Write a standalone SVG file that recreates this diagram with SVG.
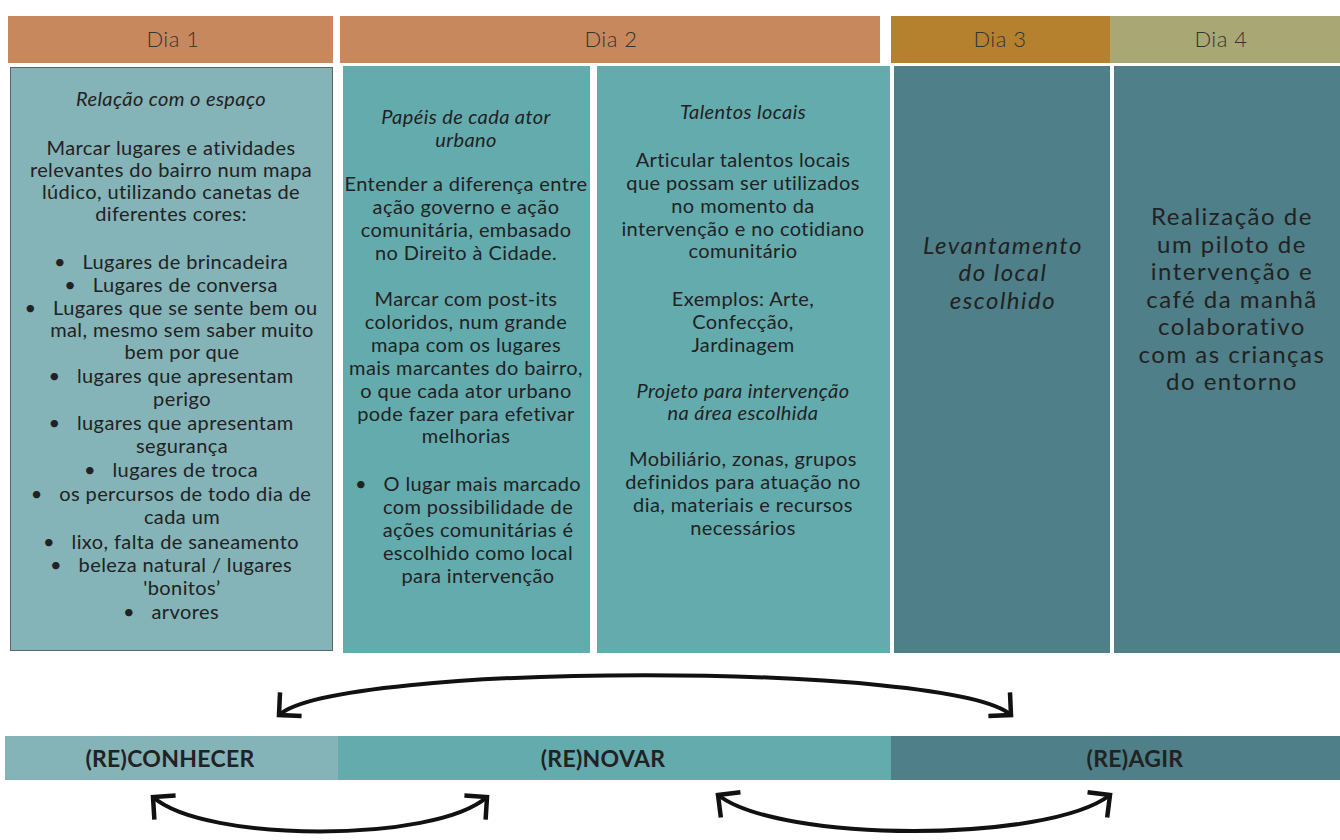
<svg xmlns="http://www.w3.org/2000/svg" width="1340" height="840" viewBox="0 0 1340 840">
<style>
.hd{font-family:Lato,"Noto Sans",sans-serif;font-weight:300;font-size:22px;fill:#333;text-anchor:middle;letter-spacing:0.5px}
.bd{font-family:Lato,"Noto Sans",sans-serif;font-size:20px;fill:#222;text-anchor:middle;letter-spacing:0.4px}
.it{font-style:italic}
.big{font-family:Lato,"Noto Sans",sans-serif;font-size:24px;fill:#222;text-anchor:middle;letter-spacing:1.5px}
.lbl{font-family:Lato,"Noto Sans",sans-serif;font-weight:700;font-size:23px;fill:#222;text-anchor:middle;letter-spacing:0.3px}
.arr{fill:none;stroke:#111;stroke-width:4;marker-start:url(#ah);marker-end:url(#ah)}
</style>
<defs>
<marker id="ah" markerUnits="userSpaceOnUse" markerWidth="48" markerHeight="48" viewBox="-24 -24 48 48" refX="0" refY="0" orient="auto-start-reverse" overflow="visible">
<path d="M -16,-16 L 0,0 L -16,16" fill="none" stroke="#111" stroke-width="4.5"/>
</marker>
</defs>
<rect width="1340" height="840" fill="#fff"/>

<g id="header-dia1"><rect x="8" y="16" width="325" height="47" fill="#c8885e"/><text class="hd" x="173" y="47">Dia 1</text></g>
<g id="header-dia2"><rect x="340" y="16" width="540" height="47" fill="#c8885e"/><text class="hd" x="611" y="47">Dia 2</text></g>
<g id="header-dia3"><rect x="891" y="16" width="220" height="47" fill="#b5812f"/><text class="hd" x="1000" y="47">Dia 3</text></g>
<g id="header-dia4"><rect x="1110" y="16" width="230" height="47" fill="#a9a774"/><text class="hd" x="1221" y="47">Dia 4</text></g>

<g id="dia1">
<rect x="10.5" y="67.5" width="322" height="583" fill="#84b3b8" stroke="#5a6466" stroke-width="1"/>
<text class="bd it" x="171" y="106">Relação com o espaço</text>
<text class="bd" x="171" y="155">Marcar lugares e atividades</text>
<text class="bd" x="171" y="177">relevantes do bairro num mapa</text>
<text class="bd" x="171" y="199">lúdico, utilizando canetas de</text>
<text class="bd" x="171" y="221">diferentes cores:</text>
<text class="bd" x="171" y="269">•&#160;&#160;&#160;Lugares de brincadeira</text>
<text class="bd" x="171" y="292">•&#160;&#160;&#160;Lugares de conversa</text>
<text class="bd" x="171" y="315">•&#160;&#160;&#160;Lugares que se sente bem ou</text>
<text class="bd" x="182" y="337">mal, mesmo sem saber muito</text>
<text class="bd" x="182" y="359">bem por que</text>
<text class="bd" x="171" y="383">•&#160;&#160;&#160;lugares que apresentam</text>
<text class="bd" x="182" y="406">perigo</text>
<text class="bd" x="171" y="430">•&#160;&#160;&#160;lugares que apresentam</text>
<text class="bd" x="182" y="453">segurança</text>
<text class="bd" x="171" y="477">•&#160;&#160;&#160;lugares de troca</text>
<text class="bd" x="171" y="501">•&#160;&#160;&#160;os percursos de todo dia de</text>
<text class="bd" x="182" y="524">cada um</text>
<text class="bd" x="171" y="549">•&#160;&#160;&#160;lixo, falta de saneamento</text>
<text class="bd" x="171" y="572">•&#160;&#160;&#160;beleza natural / lugares</text>
<text class="bd" x="182" y="595">'bonitos’</text>
<text class="bd" x="171" y="619">•&#160;&#160;&#160;arvores</text>
</g>

<g id="dia2-papeis">
<rect x="343" y="66" width="247" height="587" fill="#64abae"/>
<text class="bd it" x="466" y="124">Papéis de cada ator</text>
<text class="bd it" x="466" y="147">urbano</text>
<text class="bd" x="466" y="191">Entender a diferença entre</text>
<text class="bd" x="466" y="214">ação governo e ação</text>
<text class="bd" x="466" y="237">comunitária, embasado</text>
<text class="bd" x="466" y="260">no Direito à Cidade.</text>
<text class="bd" x="466" y="306">Marcar com post-its</text>
<text class="bd" x="466" y="329">coloridos, num grande</text>
<text class="bd" x="466" y="352">mapa com os lugares</text>
<text class="bd" x="466" y="375">mais marcantes do bairro,</text>
<text class="bd" x="466" y="398">o que cada ator urbano</text>
<text class="bd" x="466" y="421">pode fazer para efetivar</text>
<text class="bd" x="466" y="443">melhorias</text>
<text class="bd" x="468" y="491">•&#160;&#160;&#160;O lugar mais marcado</text>
<text class="bd" x="478" y="514">com possibilidade de</text>
<text class="bd" x="478" y="537">ações comunitárias é</text>
<text class="bd" x="478" y="560">escolhido como local</text>
<text class="bd" x="478" y="583">para intervenção</text>
</g>

<g id="dia2-talentos">
<rect x="597" y="66" width="293" height="587" fill="#64abae"/>
<text class="bd it" x="743" y="119">Talentos locais</text>
<text class="bd" x="743" y="167">Articular talentos locais</text>
<text class="bd" x="743" y="190">que possam ser utilizados</text>
<text class="bd" x="743" y="213">no momento da</text>
<text class="bd" x="743" y="236">intervenção e no cotidiano</text>
<text class="bd" x="743" y="258">comunitário</text>
<text class="bd" x="743" y="306">Exemplos: Arte,</text>
<text class="bd" x="743" y="329">Confecção,</text>
<text class="bd" x="743" y="352">Jardinagem</text>
<text class="bd it" x="743" y="398">Projeto para intervenção</text>
<text class="bd it" x="743" y="420">na área escolhida</text>
<text class="bd" x="743" y="466">Mobiliário, zonas, grupos</text>
<text class="bd" x="743" y="489">definidos para atuação no</text>
<text class="bd" x="743" y="512">dia, materiais e recursos</text>
<text class="bd" x="743" y="535">necessários</text>
</g>

<g id="dia3">
<rect x="894" y="66" width="216" height="587" fill="#4f7f88"/>
<text class="big it" x="1003" y="254">Levantamento</text>
<text class="big it" x="1003" y="281">do local</text>
<text class="big it" x="1003" y="309">escolhido</text>
</g>

<g id="dia4">
<rect x="1114" y="66" width="226" height="587" fill="#4f7f88"/>
<text class="big" x="1232" y="225">Realização de</text>
<text class="big" x="1232" y="253">um piloto de</text>
<text class="big" x="1232" y="280">intervenção e</text>
<text class="big" x="1232" y="308">café da manhã</text>
<text class="big" x="1232" y="335">colaborativo</text>
<text class="big" x="1232" y="363">com as crianças</text>
<text class="big" x="1232" y="390">do entorno</text>
</g>

<g id="reconhecer"><rect x="5" y="736" width="334" height="44" fill="#84b3b8"/><text class="lbl" x="170" y="767">(RE)CONHECER</text></g>
<g id="renovar"><rect x="338" y="736" width="553" height="44" fill="#64abae"/><text class="lbl" x="603" y="767">(RE)NOVAR</text></g>
<g id="reagir"><rect x="891" y="736" width="449" height="44" fill="#4f7f88"/><text class="lbl" x="1135" y="767">(RE)AGIR</text></g>

<g id="connectors">
<path class="arr" d="M 279,715 C 337,662 953,662 1011,715"/>
<path class="arr" d="M 153,797 C 205,843 435,843 487,797"/>
<path class="arr" d="M 718,795 C 780,843 1048,843 1110,795"/>
</g>
</svg>
